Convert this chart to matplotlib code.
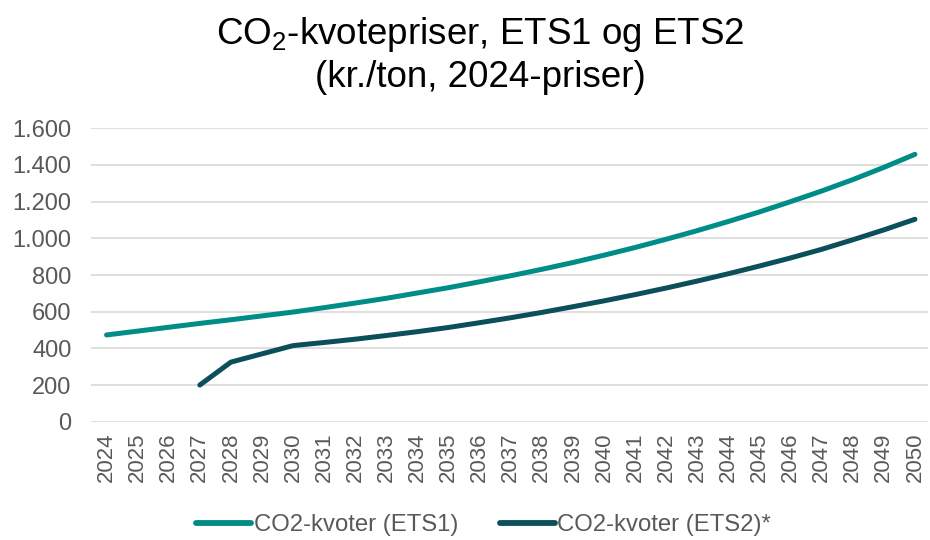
import numpy as np
import matplotlib
matplotlib.use("Agg")
import matplotlib.pyplot as plt
from matplotlib.ticker import FuncFormatter

# Data (kr./ton, 2024-priser)
years = list(range(2024, 2051))
ets1 = [473, 494, 515, 536, 556, 577, 598, 622, 647, 673, 702, 731, 763, 796,
        831, 868, 908, 950, 995, 1042, 1092, 1144, 1200, 1258, 1320, 1387, 1458]
ets2_years = list(range(2027, 2051))
ets2 = [200, 325, 370, 415, 432, 450, 470, 491, 514, 540, 567, 596, 627, 659,
        693, 729, 767, 807, 849, 893, 940, 992, 1046, 1104]

labels = ["CO2-kvoter (ETS1)", "CO2-kvoter (ETS2)*"]
title = "CO$_2$-kvotepriser, ETS1 og ETS2\n(kr./ton, 2024-priser)"

col_ets1 = "#008C87"
col_ets2 = "#0B4F5B"
grey = "#595959"

plt.rcParams['font.family'] = ['Liberation Sans', 'DejaVu Sans']
plt.rcParams['mathtext.fontset'] = 'custom'
plt.rcParams['mathtext.rm'] = 'Liberation Sans'
plt.rcParams['mathtext.it'] = 'Liberation Sans:italic'

fig = plt.figure(figsize=(9.3, 5.4), dpi=100)
ax = fig.add_axes([91 / 930, 118.3 / 540, 837 / 930, 293.4 / 540])

ax.plot(years, ets1, color=col_ets1, lw=3.6, solid_capstyle='round', label=labels[0])
ax.plot(ets2_years, ets2, color=col_ets2, lw=3.6, solid_capstyle='round', label=labels[1])

ax.set_xlim(2023.5, 2050.42)
ax.set_ylim(0, 1600)
ax.set_yticks(np.arange(0, 1601, 200))
ax.yaxis.set_major_formatter(FuncFormatter(lambda v, p: f"{int(v):,}".replace(",", ".")))
ax.set_xticks(years)
ax.set_xticklabels([str(y) for y in years], rotation=90)

ax.grid(axis='y', color='#D9D9D9', lw=1.2)
ax.set_axisbelow(True)
for s in ax.spines.values():
    s.set_visible(False)
ax.tick_params(axis='both', length=0, labelcolor=grey)
ax.tick_params(axis='y', pad=14, labelsize=17)
ax.tick_params(axis='x', pad=8, labelsize=16)

fig.text(0.516, 0.972, title, ha='center', va='top', fontsize=26.5,
         color='black', linespacing=1.22)

leg = fig.legend(loc='center', bbox_to_anchor=(0.52, 0.028), ncol=2, frameon=False,
                 fontsize=17.2, handlelength=2.3, columnspacing=1.75, handletextpad=0.1)
for t in leg.get_texts():
    t.set_color(grey)
for h in leg.get_lines():
    h.set_linewidth(4.2)

fig.savefig("out.png", dpi=100)
